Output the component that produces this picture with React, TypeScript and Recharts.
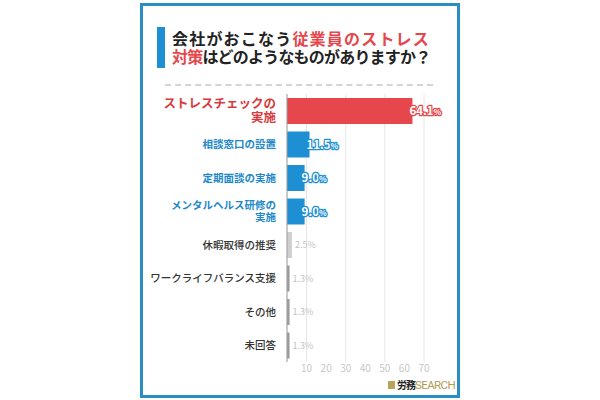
import React from 'react';
import { BarChart, Bar, XAxis, YAxis, CartesianGrid, Cell, LabelList } from 'recharts';

const categories = [
  'ストレスチェックの\n実施',
  '相談窓口の設置',
  '定期面談の実施',
  'メンタルヘルス研修の\n実施',
  '休暇取得の推奨',
  'ワークライフバランス支援',
  'その他',
  '未回答',
];
const values = [64.1, 11.5, 9.0, 9.0, 2.5, 1.3, 1.3, 1.3];
const barColors = ['#e5474c', '#1e8fd3', '#1e8fd3', '#1e8fd3', '#cfcfcf', '#9a9a9a', '#9a9a9a', '#9a9a9a'];
const labelColors = ['#d93a40', '#1e88c8', '#1e88c8', '#1e88c8', '#333333', '#333333', '#333333', '#333333'];
const xTicks = [10, 20, 30, 40, 50, 60, 70];

const data = categories.map((name, i) => ({ name, value: values[i] }));

const FONT = '"Noto Sans CJK JP", "Noto Sans", sans-serif';

const CategoryTick = (props: any) => {
  const { x, y, payload, index } = props;
  const lines: string[] = String(payload.value).split('\n');
  const first = index === 0;
  const size = first ? 12.5 : 10.5;
  const lh = first ? 14 : 12;
  const color = labelColors[index] ?? '#333';
  const start = -((lines.length - 1) * lh) / 2;
  const tx = x - 3;
  return (
    <text
      x={tx}
      y={y}
      textAnchor="end"
      fontFamily={FONT}
      fontSize={size}
      fontWeight={index < 4 ? 700 : 500}
      fill={color}
    >
      {lines.map((l, i) => (
        <tspan key={i} x={tx} y={y + start + i * lh} dy="0.36em">
          {l}
        </tspan>
      ))}
    </text>
  );
};

const ValueLabel = (props: any) => {
  const { x, y, width, height, value, index } = props;
  const cy = y + height / 2;
  const num = Number(value).toFixed(1);
  if (index < 4) {
    return (
      <text
        x={x + width - 3}
        y={cy}
        dy="0.36em"
        fontFamily={FONT}
        fontWeight={700}
        fontSize={11.5}
        fill="#ffffff"
        stroke={barColors[index]}
        strokeWidth={2.5}
        paintOrder="stroke"
        strokeLinejoin="round"
      >
        {num}
        <tspan fontSize={8}>%</tspan>
      </text>
    );
  }
  return (
    <text
      x={x + width + 3}
      y={cy}
      dy="0.36em"
      fontFamily={FONT}
      fontSize={9}
      fill="#c4c4c4"
    >
      {num}%
    </text>
  );
};

export default function App() {
  return (
    <div
      style={{
        position: 'absolute',
        left: 0,
        top: 0,
        width: 600,
        height: 400,
        background: '#ffffff',
        fontFamily: FONT,
        overflow: 'hidden',
      }}
    >
      {/* card frame */}
      <div
        style={{
          position: 'absolute',
          left: 140,
          top: 3,
          width: 314,
          height: 389,
          border: '3px solid #2a8dc4',
          background: '#ffffff',
        }}
      />
      {/* title */}
      <div style={{ position: 'absolute', left: 157, top: 27, width: 8, height: 41, background: '#1e8fd3' }} />
      <div
        style={{
          position: 'absolute',
          left: 172,
          top: 30,
          fontSize: 16,
          fontWeight: 700,
          lineHeight: '16px',
          letterSpacing: 1.2,
          whiteSpace: 'nowrap',
          color: '#222',
        }}
      >
        会社がおこなう<span style={{ color: '#e5474c' }}>従業員のストレス</span>
      </div>
      <div
        style={{
          position: 'absolute',
          left: 172,
          top: 48,
          fontSize: 16,
          fontWeight: 700,
          lineHeight: '16px',
          letterSpacing: -0.8,
          whiteSpace: 'nowrap',
          color: '#222',
        }}
      >
        <span style={{ color: '#e5474c' }}>対策</span>はどのようなものがありますか？
      </div>
      <div
        style={{
          position: 'absolute',
          left: 165,
          top: 84,
          width: 268,
          borderTop: '2px dashed #d4d4d4',
        }}
      />
      <div style={{ position: 'absolute', left: 0, top: 0 }}>
        <BarChart
          width={600}
          height={400}
          data={data}
          layout="vertical"
          margin={{ top: 94, right: 176, bottom: 0, left: 0 }}
        >
          <CartesianGrid horizontal={false} stroke="#e6e6e6" />
          <XAxis
            type="number"
            domain={[0, 70]}
            ticks={xTicks}
            axisLine={false}
            tickLine={false}
            tickSize={0}
            tickMargin={3}
            height={38}
            tick={{ fontSize: 10, fill: '#c8c8c8', fontFamily: FONT }}
          />
          <YAxis
            type="category"
            dataKey="name"
            width={287}
            axisLine={{ stroke: '#a0a0a0', strokeWidth: 1 }}
            tickLine={false}
            tick={<CategoryTick />}
            interval={0}
          />
          <Bar dataKey="value" barSize={26} isAnimationActive={false}>
            {data.map((_, i) => (
              <Cell key={`c-${i}`} fill={barColors[i]} />
            ))}
            <LabelList dataKey="value" content={<ValueLabel />} />
          </Bar>
        </BarChart>
      </div>
      {/* footer logo */}
      <div style={{ position: 'absolute', left: 388, top: 381, width: 7, height: 8, background: '#b9a35a' }} />
      <div
        style={{
          position: 'absolute',
          left: 397,
          top: 378,
          fontSize: 11.5,
          lineHeight: '14px',
          whiteSpace: 'nowrap',
          fontFamily: '"Roboto", sans-serif',
        }}
      >
        <span style={{ fontWeight: 700, color: '#222', fontFamily: FONT, fontSize: 10, letterSpacing: -1 }}>労務</span>
        <span style={{ color: '#b39a50', letterSpacing: -0.6 }}>SEARCH</span>
      </div>
    </div>
  );
}
